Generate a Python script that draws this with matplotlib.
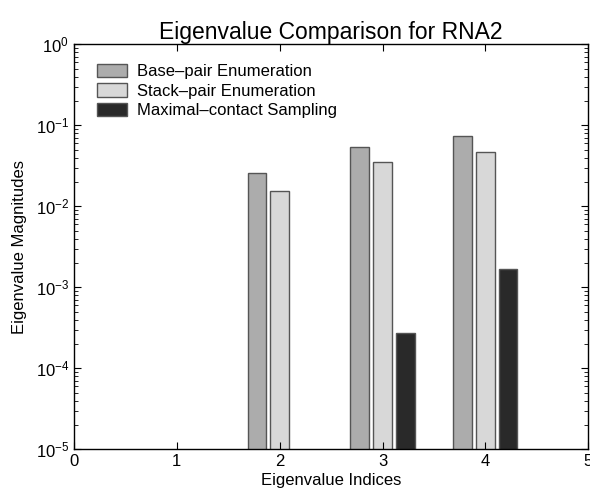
import numpy as np
import matplotlib
matplotlib.use('Agg')
import matplotlib.pyplot as plt

plt.rcParams['font.family'] = ['Liberation Sans', 'DejaVu Sans']

# data
indices = [1, 2, 3, 4]
base_pair = [np.nan, 0.0258, 0.054, 0.0738]
stack_pair = [np.nan, 0.0154, 0.0352, 0.0468]
max_contact = [np.nan, np.nan, 2.73e-4, 1.68e-3]
names = ['Base\u2013pair Enumeration', 'Stack\u2013pair Enumeration',
         'Maximal\u2013contact Sampling']
colors = ['#acacac', '#d8d8d8', '#292929']

fig = plt.figure(figsize=(5.9, 4.88), dpi=100)
ax = fig.add_axes([0.1254, 0.0793, 0.8716, 0.8299])

x = np.array(indices, dtype=float)
w = 0.18
off = 0.222
series = [base_pair, stack_pair, max_contact]
for i, (vals, nm, c) in enumerate(zip(series, names, colors)):
    ax.bar(x + (i - 1) * off, vals, width=w, color=c, edgecolor='#555555',
           linewidth=1.0, label=nm)

ax.set_yscale('log')
ax.set_ylim(1e-5, 1)
ax.set_xlim(0, 5)
ax.set_xticks([0, 1, 2, 3, 4, 5])
ax.tick_params(which='both', direction='in', top=True, right=True, labelsize=12)
ax.tick_params(which='major', length=5)
ax.tick_params(which='minor', length=3)
for s in ax.spines.values():
    s.set_linewidth(1.0)

ax.set_title('Eigenvalue Comparison for RNA2', fontsize=16.5, pad=4)
ax.set_xlabel('Eigenvalue Indices', fontsize=12, labelpad=2.5)
ax.set_ylabel('Eigenvalue Magnitudes', fontsize=12, labelpad=6)

leg = ax.legend(loc='upper left', bbox_to_anchor=(0.0325, 0.9686),
                borderaxespad=0, frameon=False, fontsize=12,
                handlelength=1.75, handleheight=0.85, labelspacing=0.25,
                handletextpad=0.65)

fig.savefig('out.png', dpi=100)
